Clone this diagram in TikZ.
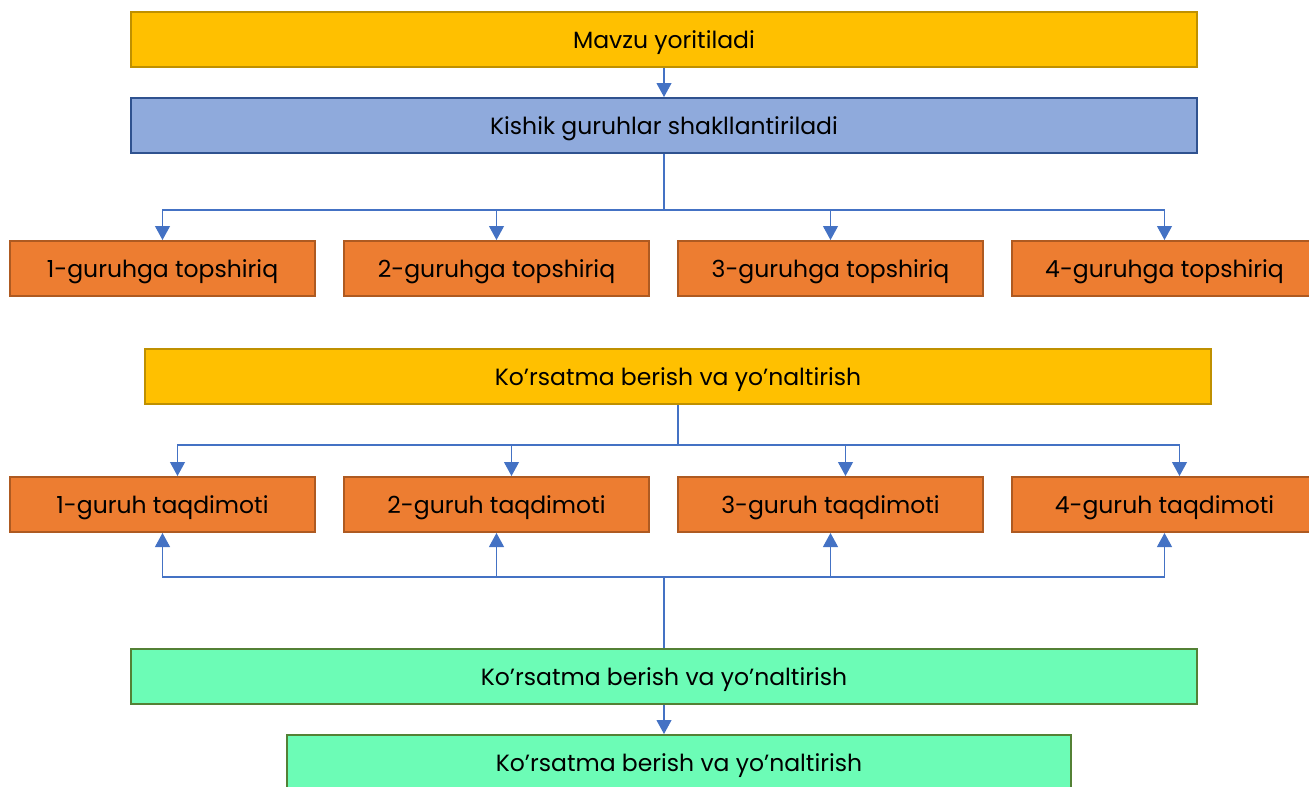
\documentclass[tikz,border=0pt]{standalone}
\usepackage{fontspec}
\setmainfont{Poppins}
\usetikzlibrary{arrows.meta}
\definecolor{goldfill}{HTML}{FFC000}
\definecolor{goldline}{HTML}{BF9000}
\definecolor{bluefill}{HTML}{8FAADC}
\definecolor{blueline}{HTML}{2F528F}
\definecolor{orangefill}{HTML}{ED7D31}
\definecolor{orangeline}{HTML}{AE5A21}
\definecolor{greenfill}{HTML}{6CFCB6}
\definecolor{greenline}{HTML}{538135}
\definecolor{linkblue}{HTML}{4472C4}
\begin{document}
\begin{tikzpicture}[x=1pt,y=-1pt,
        bar/.style={draw,line width=2pt,minimum height=55pt,inner sep=0pt,text depth=0pt,font=\fontsize{23.5}{26}\selectfont},
        wide/.style={bar,minimum width=1066pt},
        group/.style={bar,fill=orangefill,draw=orangeline,minimum width=305pt},
        link/.style={draw=linkblue,line width=1.1pt},
        tip/.style={link,-{Triangle[width=15pt,length=14pt]}}]
        \useasboundingbox (0,0) rectangle (1309,787);
        %% Top boxes
        \node[wide,fill=goldfill,draw=goldline] (topic) at (664,39.5) {Mavzu yoritiladi};
        \node[wide,fill=bluefill,draw=blueline] (groups) at (664,125.5) {Kishik guruhlar shakllantiriladi};
        \draw[tip] (topic) -- (groups);
        %% Tasks
        \coordinate (bus1) at (664,210);
        \draw[link] (groups) -- (bus1);
        \foreach \i/\x in {1/162.5,2/496.5,3/830.5,4/1164.5} {
            \node[group] (task\i) at (\x,268.5) {\i-guruhga topshiriq};
            \draw[tip] (bus1) -| (task\i);
        }
        %% Guidance
        \node[wide,fill=goldfill,draw=goldline] (guide) at (678,376.5) {Ko’rsatma berish va yo’naltirish};
        \coordinate (bus2) at (678,445);
        \draw[link] (guide) -- (bus2);
        \coordinate (bus3) at (664,577);
        \foreach \i/\x in {1/162.5,2/496.5,3/830.5,4/1164.5} {
            \node[group] (show\i) at (\x,504.5) {\i-guruh taqdimoti};
            \draw[tip] (bus2) -| ([xshift=15pt]show\i.north);
            \draw[tip] (bus3) -| (show\i);
        }
        %% Bottom boxes
        \node[wide,fill=greenfill,draw=greenline] (check) at (664,676.5) {Ko’rsatma berish va yo’naltirish};
        \node[bar,fill=greenfill,draw=greenline,minimum width=784pt] (final) at (679,762.5) {Ko’rsatma berish va yo’naltirish};
        \draw[link] (check.north) -- (bus3);
        \draw[tip] (check) -- (check.south |- final.north);
\end{tikzpicture}
\end{document}
